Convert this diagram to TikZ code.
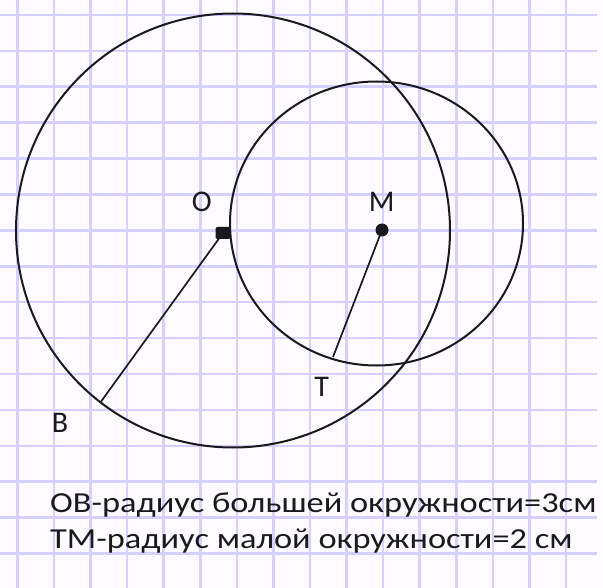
\documentclass[tikz,border=0pt]{standalone}
\usepackage{graphicx}
\usepackage{fontspec}
\setmainfont{Carlito}
\definecolor{gridc}{RGB}{212,208,255}
\definecolor{ink}{RGB}{25,25,30}
\definecolor{paper}{RGB}{253,251,255}
\begin{document}
\begin{tikzpicture}[x=1pt,y=-1pt,
  gridline/.style={draw=gridc,line width=2.6pt},
  curve/.style={draw=ink,line width=2pt},
  radline/.style={draw=ink,line width=1.7pt},
  lbl/.style={font=\fontsize{30}{34}\selectfont,text=ink,inner sep=0pt},
  note/.style={font=\fontsize{29}{34}\selectfont,text=ink,anchor=base west,inner sep=0pt}]
\fill[paper] (0,0) rectangle (603,588);
\useasboundingbox (0,0) rectangle (603,588);
\foreach \k in {0,...,15}{
  \draw[gridline] ({17.4+36.57*\k},0) -- ({17.4+36.57*\k},588);
  \draw[gridline] (0,{15+35.9*\k}) -- (597,{15+35.9*\k});
}
\draw[curve] (233,230.5) circle[radius=217];
\draw[curve] (376.5,223.5) ellipse[x radius=146.5, y radius=142];
\node[fill=ink,minimum width=15pt,minimum height=12pt,inner sep=0pt,rounded corners=2pt] (O) at (223,233) {};
\node[circle,fill=ink,minimum size=13pt,inner sep=0pt] (M) at (382,230) {};
\coordinate (B) at (100,403);
\coordinate (T) at (333,357);
\draw[radline] (O.center) -- (B);
\draw[radline] (M.center) -- (T);
\node[lbl] (lO) at (201.7,201.7) {O};
\node[lbl] (lM) at (381.7,201.7) {M};
\node[lbl] (lT) at (321.7,386.7) {T};
\node[lbl] (lB) at (60,423) {B};
\node[note] (n1) at (50,512) {\scalebox{1.185}[1]{ОВ-радиус большей окружности=3см}};
\node[note] (n2) at (50,548) {\scalebox{1.185}[1]{ТМ-радиус малой окружности=2 см}};
\end{tikzpicture}
\end{document}
